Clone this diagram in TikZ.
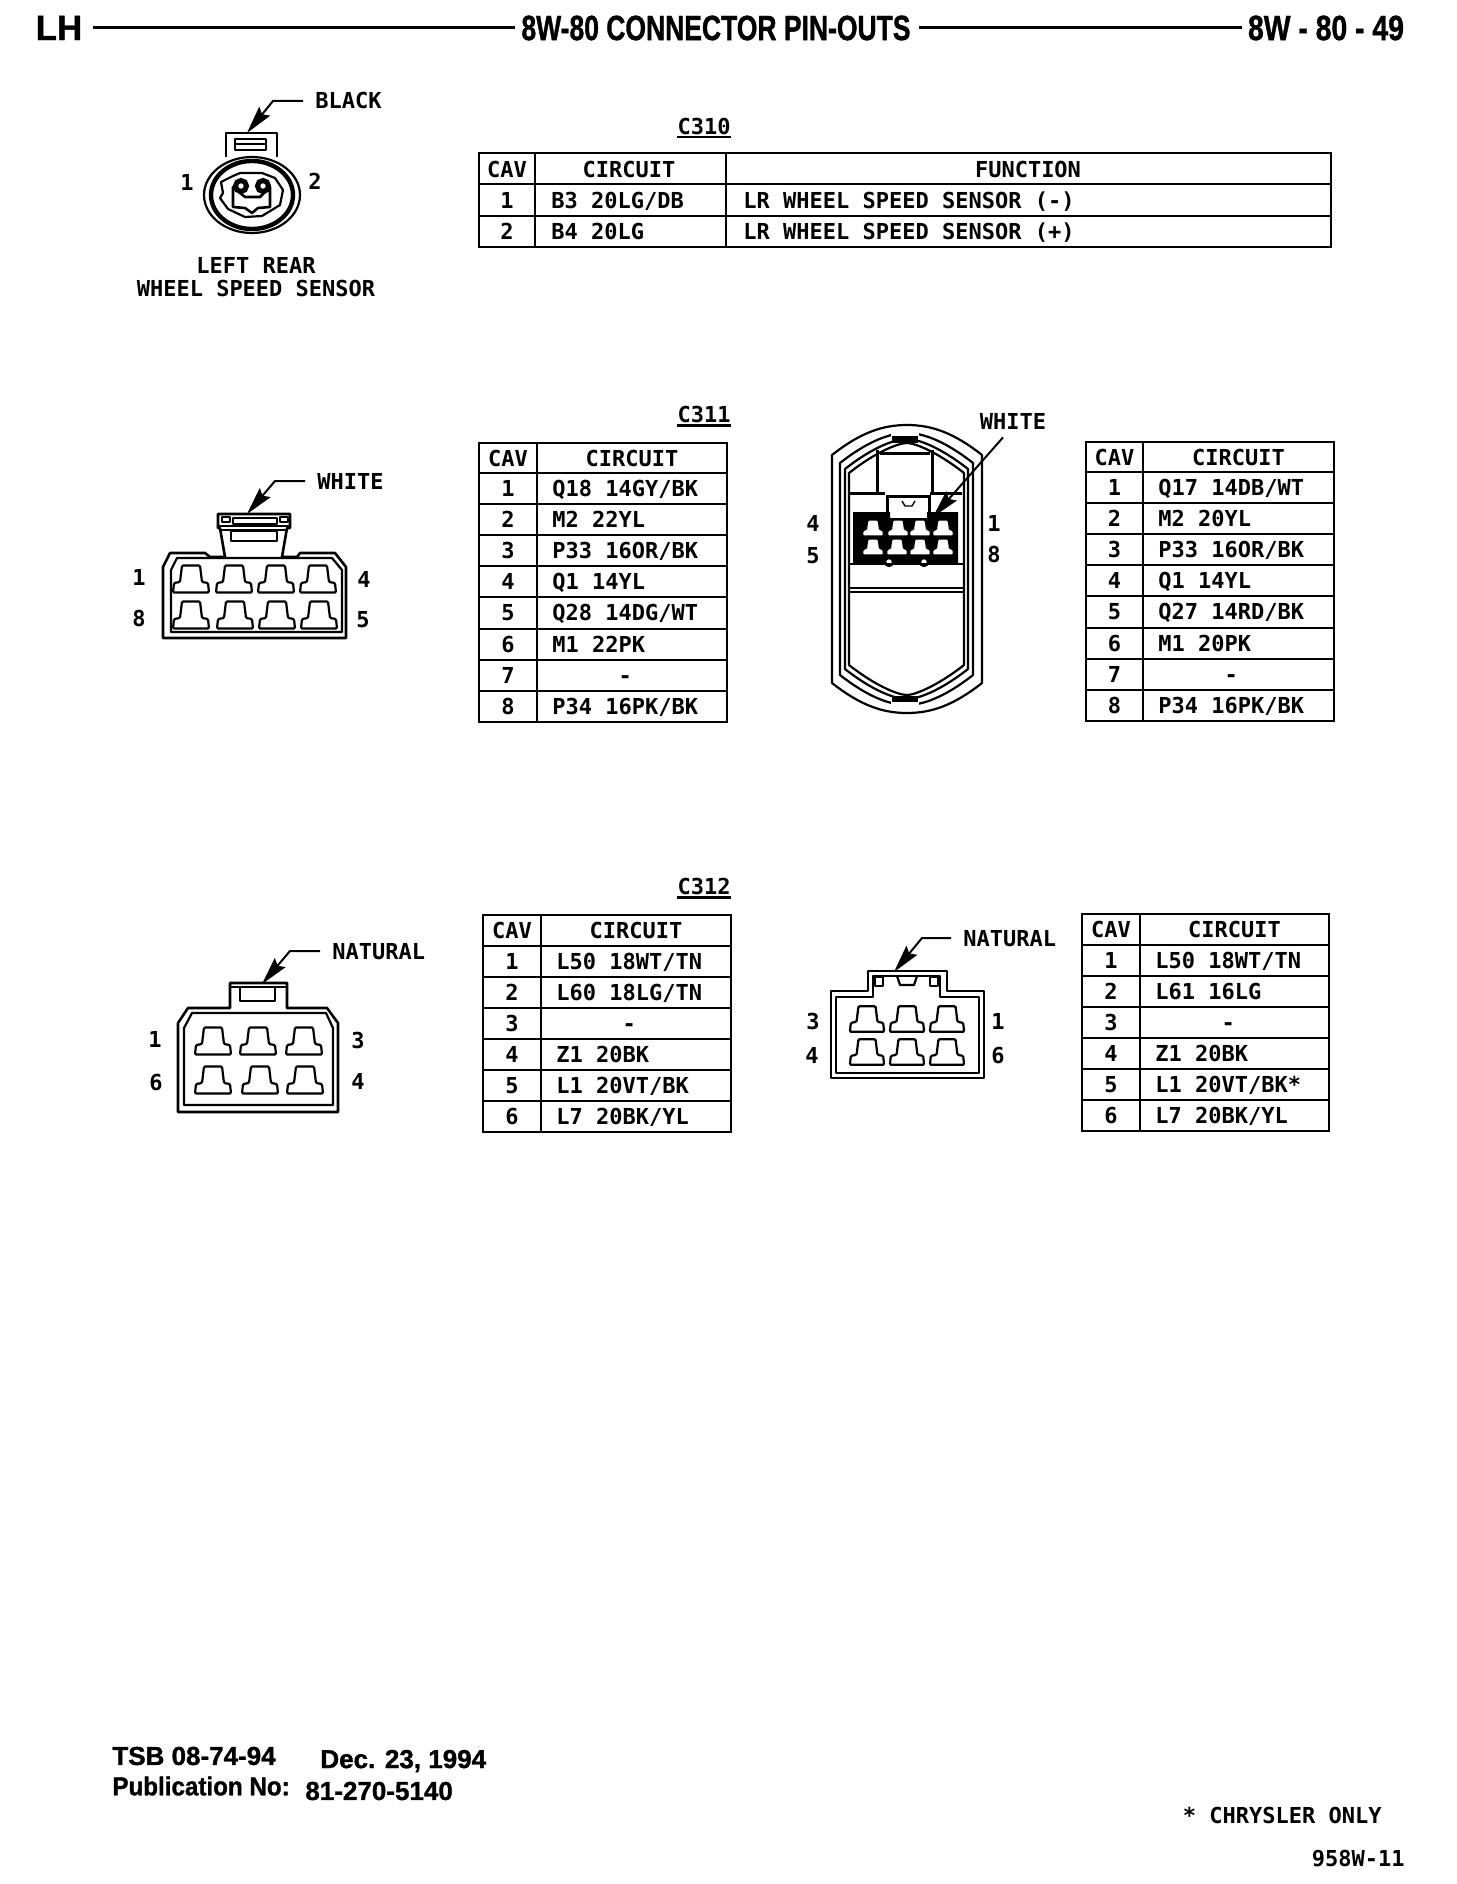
\documentclass[tikz,border=0pt]{standalone}
\usepackage{fontspec}
\usepackage{graphicx}
\usetikzlibrary{arrows.meta}
\setmainfont{Liberation Sans}
\newfontfamily\headfont[BoldFeatures={FakeBold=1.2}]{Liberation Sans}
\newfontfamily\cavfont{DejaVu Sans Mono}

% one table of cavities: name, left, column, right, top, header bottom, row height, rows
\newcommand{\cavtable}[8]{
    \draw [tbline] (#2, #5) rectangle (#4, #6);
    \draw [tbline] (#3, #5) -- (#3, #6);
    \node [cavtxt] (#1-cav) at ({(#2+#3)/2}, {(#5+#6)/2}) {CAV};
    \node [cavtxt] (#1-circuit) at ({(#3+#4)/2}, {(#5+#6)/2}) {CIRCUIT};
    \foreach \cav/\ctext in {#8} {
        \pgfmathsetmacro{\ya}{#6+(\cav-1)*#7}
        \pgfmathsetmacro{\yb}{#6+\cav*#7}
        \pgfmathsetmacro{\ym}{(\ya+\yb)/2}
        \draw [tbline] (#2, \ya) rectangle (#4, \yb);
        \draw [tbline] (#3, \ya) -- (#3, \yb);
        \node [cavtxt] (#1-\cav) at ({(#2+#3)/2}, \ym) {\cav};
        \node [cavtxt, anchor=west] (#1-\cav-c) at (#3+15, \ym) {\ctext};
    }
}

\begin{document}
\begin{tikzpicture}[x=0.5pt, y=-0.5pt,
    tbline/.style={line width=1pt},
    shell/.style={line width=1.1pt, line join=round},
    pinline/.style={line width=1.1pt},
    cavtxt/.style={font=\cavfont\bfseries\fontsize{11}{13}\selectfont, inner sep=0pt, text height=8pt, text depth=0pt},
    colortxt/.style={cavtxt, inner xsep=6pt},
    headtxt/.style={font=\headfont\bfseries\fontsize{17.5}{20}\selectfont, inner sep=0pt},
    foottxt/.style={font=\headfont\bfseries\fontsize{13}{15}\selectfont, inner sep=0pt, anchor=west},
    leadline/.style={line width=1pt, -{Stealth[length=14pt, width=7pt, inset=2pt]}},
    cavpin/.pic={
        \draw [pinline, fill=white, rounded corners=0.6pt]
            (-9, -13.5) -- (9, -13.5) -- (11, 3) -- (17, 4) -- (18, 13.5)
            -- (-18, 13.5) -- (-17, 4) -- (-11, 3) -- cycle;
    }]

\useasboundingbox (0, 0) rectangle (1456, 1884);

% header
\node [headtxt] (lh) at (59, 28) {LH};
\node [headtxt] (title) at (716, 28) {\scalebox{0.757}[1]{8W-80 CONNECTOR PIN-OUTS}};
\node [headtxt] (pagenum) at (1326, 28) {\scalebox{0.81}[1]{8W - 80 - 49}};
\draw [line width=1.5pt] ([xshift=5pt]lh.east) -- ([xshift=-3pt]title.west);
\draw [line width=1.5pt] ([xshift=4pt]title.east) -- ([xshift=-3pt]pagenum.west);

% section titles
\foreach \sect/\y in {C310/126, C311/414, C312/886} {
    \node [cavtxt] (title-\sect) at (704, \y) {\sect};
    \draw [line width=1.1pt] ([yshift=-1.5pt]title-\sect.south west) -- ([yshift=-1.5pt]title-\sect.south east);
}

% c310 table
\draw [tbline] (479, 153) rectangle (1331, 184);
\node [cavtxt] (c310-cav) at (507, 169) {CAV};
\node [cavtxt] (c310-circuit) at (629, 169) {CIRCUIT};
\node [cavtxt] (c310-function) at (1028, 169) {FUNCTION};
\foreach \cav/\ctext/\cfunc/\ya/\yb in {1/{B3 20LG/DB}/{LR WHEEL SPEED SENSOR (-)}/184/216, 2/{B4 20LG}/{LR WHEEL SPEED SENSOR (+)}/216/247} {
    \draw [tbline] (479, \ya) rectangle (1331, \yb);
    \node [cavtxt] (c310-\cav) at (507, {(\ya+\yb)/2}) {\cav};
    \node [cavtxt, anchor=west] (c310-\cav-c) at (551, {(\ya+\yb)/2}) {\ctext};
    \node [cavtxt, anchor=west] (c310-\cav-f) at (743, {(\ya+\yb)/2}) {\cfunc};
}
\draw [tbline] (535, 153) -- (535, 247);
\draw [tbline] (726, 153) -- (726, 247);

% other tables
\cavtable{c311a}{479}{537}{727}{443}{473}{31.1}{1/{Q18 14GY/BK}, 2/{M2 22YL}, 3/{P33 16OR/BK}, 4/{Q1 14YL}, 5/{Q28 14DG/WT}, 6/{M1 22PK}, 7/{~~~~~-}, 8/{P34 16PK/BK}}
\cavtable{c311b}{1086}{1143}{1334}{442}{472}{31.1}{1/{Q17 14DB/WT}, 2/{M2 20YL}, 3/{P33 16OR/BK}, 4/{Q1 14YL}, 5/{Q27 14RD/BK}, 6/{M1 20PK}, 7/{~~~~~-}, 8/{P34 16PK/BK}}
\cavtable{c312a}{483}{541}{731}{915}{946}{31}{1/{L50 18WT/TN}, 2/{L60 18LG/TN}, 3/{~~~~~-}, 4/{Z1 20BK}, 5/{L1 20VT/BK}, 6/{L7 20BK/YL}}
\cavtable{c312b}{1082}{1140}{1329}{914}{945}{31}{1/{L50 18WT/TN}, 2/{L61 16LG}, 3/{~~~~~-}, 4/{Z1 20BK}, 5/{L1 20VT/BK*}, 6/{L7 20BK/YL}}

% wheel sensor connector
\draw [shell] (226, 157) -- (226, 133) -- (277, 133) -- (277, 157);
\draw [shell, line width=1.4pt] (235, 139) rectangle (266, 150);
\draw [shell, line width=0.7pt] (236, 144) -- (265, 144);
\draw [shell] (252, 195) ellipse (48 and 38);
\draw [line width=2.2pt] (252, 195) ellipse (41 and 34);
\draw [shell] (221, 182) -- (233, 176) -- (240, 173) -- (262, 173) -- (275, 178) -- (283, 190) -- (280, 205)
    -- (262, 216) -- (245, 217) -- (228, 209) -- (220, 198) -- (223, 193) -- cycle;
\draw [shell, line width=1.3pt] (233, 187) -- (233, 207) -- (245, 208) -- (252, 213) -- (258, 208) -- (270, 207)
    -- (270, 187) -- (260, 197) -- (245, 197) -- cycle;
\draw [line width=2.5pt, fill=white] (241, 186) circle (5.5) (263, 186) circle (5.5);
\node [colortxt, anchor=west] (black) at (303, 101) {BLACK};
\coordinate (blackbend) at (273, 101);
\coordinate (blacktip) at (247, 133);
\draw [leadline] (black.west) -- (blackbend) -- (blacktip);
\node [cavtxt] (sensor-1) at (187, 183) {1};
\node [cavtxt] (sensor-2) at (315, 182) {2};
\node [cavtxt] (sensor-a) at (256, 265) {LEFT REAR};
\node [cavtxt] (sensor-b) at (256, 288) {WHEEL SPEED SENSOR};

% c311 connector, left
\draw [shell, line width=1.3pt] (163, 567) -- (170, 553) -- (205, 553) -- (210, 557) -- (225, 557) -- (220, 528)
    -- (218, 528) -- (218, 514) -- (290, 514) -- (290, 528) -- (287, 528) -- (282, 557) -- (297, 557)
    -- (300, 553) -- (335, 553) -- (346, 567) -- (346, 638) -- (163, 638) -- cycle;
\draw [shell] (171, 632) -- (171, 570) -- (177, 558) -- (332, 558) -- (342, 570) -- (342, 632) -- cycle;
\draw [shell] (233, 518) rectangle (277, 524);
\draw [shell] (218, 526) -- (290, 526);
\draw [shell] (221, 530) -- (287, 530);
\draw [shell] (231, 531) rectangle (277, 541);
\draw [shell] (222, 517) rectangle (230, 522);
\draw [shell] (280, 517) rectangle (288, 522);
\foreach \x in {191, 234, 276, 318} {
    \pic at (\x, 579) {cavpin};
}
\foreach \x in {191, 235, 277, 319} {
    \pic at (\x, 615) {cavpin};
}
\node [colortxt, anchor=west] (white) at (305, 481) {WHITE};
\coordinate (whitebend) at (275, 481);
\coordinate (whitetip) at (247, 514);
\draw [leadline] (white.west) -- (whitebend) -- (whitetip);
\foreach \n/\x/\y in {1/139/577, 4/364/579, 8/139/618, 5/363/619} {
    \node [cavtxt] (whl-\n) at (\x, \y) {\n};
}

% c311 connector, right
\foreach \l/\r/\t/\b in {832/982/425/713, 840/973/433/705, 845/968/439/699, 849/964/443/695} {
    \draw [shell] (\l, \t + 30) .. controls (\l + 28, \t + 8) and (\l + 50, \t) .. (907, \t)
        .. controls (\r - 50, \t) and (\r - 28, \t + 8) .. (\r, \t + 30)
        -- (\r, \b - 30) .. controls (\r - 28, \b - 8) and (\r - 50, \b) .. (907, \b)
        .. controls (\l + 50, \b) and (\l + 28, \b - 8) .. (\l, \b - 30) -- cycle;
}
\fill [white] (891, 430) rectangle (919, 437);
\fill [white] (891, 701) rectangle (919, 708);
\fill (892, 436) rectangle (918, 443);
\fill (892, 696) rectangle (918, 702);
\draw [line width=1.5pt] (877, 450) -- (877, 492) (932, 450) -- (932, 492);
\draw [line width=1.5pt] (880, 453) -- (930, 453) (850, 493) -- (885, 493) (930, 493) -- (962, 493);
\draw [line width=1.5pt] (887, 517) -- (887, 496) -- (929, 496) -- (929, 517);
\draw [shell, line width=0.7pt] (902, 501) -- (905, 506) -- (912, 506) -- (915, 501);
\fill (853, 512) -- (890, 512) -- (890, 518) -- (927, 518) -- (927, 512) -- (958, 512) -- (958, 563) -- (853, 563) -- cycle;
\foreach \x in {873, 898, 920, 943} {
    \pic [scale=0.58, pinline/.style={line width=0.5pt}] at (\x, 528) {cavpin};
}
\foreach \x in {873, 897, 920, 943} {
    \pic [scale=0.58, pinline/.style={line width=0.5pt}] at (\x, 547) {cavpin};
}
\draw [shell, fill=white] (889, 562) circle (4) (924, 562) circle (4);
\draw [line width=0.7pt] (849, 564) -- (964, 564);
\draw [shell] (850, 588) -- (963, 588);
\draw [shell] (850, 592) -- (963, 592);
\node [cavtxt] (white2) at (1013, 421) {WHITE};
\coordinate (white2tip) at (933, 517);
\draw [leadline] ([shift={(-5pt, -4pt)}]white2.south) -- (white2tip);
\foreach \n/\x/\y in {4/813/523, 5/813/555, 1/994/523, 8/994/554} {
    \node [cavtxt] (whr-\n) at (\x, \y) {\n};
}

% c312 connector, left
\draw [shell, line width=1.3pt] (178, 1023) -- (188, 1008) -- (230, 1008) -- (230, 983) -- (287, 983) -- (287, 1008)
    -- (327, 1008) -- (338, 1023) -- (338, 1112) -- (178, 1112) -- cycle;
\draw [shell] (184, 1105) -- (184, 1028) -- (192, 1013) -- (326, 1013) -- (333, 1028) -- (333, 1105) -- cycle;
\draw [shell] (230, 987) -- (287, 987);
\draw [shell, line width=1.3pt] (240, 987) rectangle (275, 1001);
\foreach \x in {213, 258, 304} {
    \pic at (\x, 1041) {cavpin};
}
\foreach \x in {213, 260, 305} {
    \pic at (\x, 1080) {cavpin};
}
\node [colortxt, anchor=west] (natural) at (320, 951) {NATURAL};
\coordinate (naturalbend) at (290, 951);
\coordinate (naturaltip) at (262, 984);
\draw [leadline] (natural.west) -- (naturalbend) -- (naturaltip);
\foreach \n/\x/\y in {1/155/1039, 3/358/1040, 6/156/1082, 4/358/1081} {
    \node [cavtxt] (ntl-\n) at (\x, \y) {\n};
}

% c312 connector, right
\draw [shell] (831, 991) -- (868, 991) -- (868, 971) -- (947, 971) -- (947, 991) -- (984, 991) -- (984, 1078) -- (831, 1078) -- cycle;
\draw [shell] (836, 997) -- (873, 997) -- (873, 976) -- (940, 976) -- (940, 997) -- (979, 997) -- (979, 1073) -- (836, 1073) -- cycle;
\draw [shell] (875, 977) rectangle (883, 986);
\draw [shell] (930, 977) rectangle (938, 986);
\draw [shell] (897, 976) -- (900, 985) -- (914, 985) -- (917, 976);
\foreach \x in {867, 907, 947} {
    \pic [scale=0.95] at (\x, 1019) {cavpin};
    \pic [scale=0.95] at (\x, 1052) {cavpin};
}
\node [colortxt, anchor=west] (natural2) at (951, 938) {NATURAL};
\coordinate (natural2bend) at (922, 938);
\coordinate (natural2tip) at (894, 972);
\draw [leadline] (natural2.west) -- (natural2bend) -- (natural2tip);
\foreach \n/\x/\y in {3/813/1021, 1/998/1021, 4/812/1055, 6/998/1055} {
    \node [cavtxt] (ntr-\n) at (\x, \y) {\n};
}

% footer
\node [foottxt] (tsb) at (112, 1756) {TSB 08-74-94};
\node [foottxt] (date) at (320, 1761) {Dec. 23, 1994};
\node [foottxt] (pub) at (112, 1786) {\scalebox{0.93}[1]{Publication No:}};
\node [foottxt] (pubnum) at (305, 1791) {81-270-5140};
\node [cavtxt, anchor=east] (chrysler) at (1382, 1815) {* CHRYSLER ONLY};
\node [cavtxt, anchor=east] (docnum) at (1405, 1858) {958W-11};

\end{tikzpicture}
\end{document}
